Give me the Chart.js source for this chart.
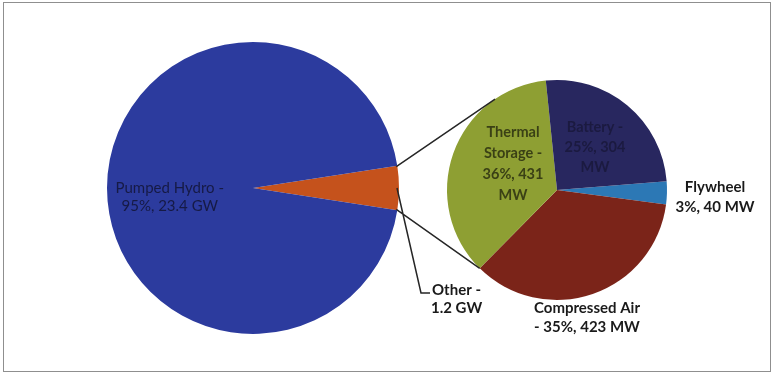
<!DOCTYPE html>
<html>
<head>
<meta charset="utf-8">
<script src="https://cdn.jsdelivr.net/npm/chart.js@4/dist/chart.umd.min.js"></script>
<style>
  html, body { margin:0; padding:0; background:#fff; }
  #wrap { position:relative; width:774px; height:376px; overflow:hidden; background:#fff; }
  #frame { position:absolute; left:3px; top:2px; width:766px; height:368px; border:1px solid #8f8f8f; }
  canvas { position:absolute; left:0; top:0; }
</style>
</head>
<body>
<div id="wrap">
  <div id="frame"></div>
  <canvas id="big" width="774" height="376"></canvas>
  <canvas id="small" width="774" height="376"></canvas>
</div>
<script>
// ---- data ----
const bigLabels = ['Other', 'Pumped Hydro'];
const bigValues = [1.2, 23.4];           // GW
const bigText = [['Other -', '1.2 GW'], ['Pumped Hydro -', '95%, 23.4 GW']];

const smallLabels = ['Flywheel', 'Compressed Air', 'Thermal Storage', 'Battery'];
const smallValues = [40, 423, 431, 304]; // MW
const smallText = [
  ['Flywheel', '3%, 40 MW'],
  ['Compressed Air', '- 35%, 423 MW'],
  ['Thermal', 'Storage -', '36%, 431', 'MW'],
  ['Battery -', '25%, 304', 'MW']
];

// ---- styles ----
const bigColors = ['#C5521C', '#2C3B9E'];
const smallColors = ['#2C78B5', '#7B2419', '#8E9F33', '#28275F'];

const FONT = 'Lato, "Open Sans", sans-serif';

function drawLines(ctx, lines, x, y, font, color, lh, align) {
  ctx.save();
  ctx.font = font;
  ctx.fillStyle = color;
  ctx.textAlign = align || 'center';
  ctx.textBaseline = 'middle';
  const y0 = y - (lines.length - 1) * lh / 2;
  lines.forEach((t, i) => ctx.fillText(t, x, y0 + i * lh));
  ctx.restore();
}

const bigTotal = bigValues.reduce((a, b) => a + b, 0);
const otherDeg = bigValues[0] / bigTotal * 360;

const bigLabelPlugin = {
  id: 'bigLabels',
  afterDraw(chart) {
    const ctx = chart.ctx;
    const arc = chart.getDatasetMeta(0).data[1];
    const mid = (arc.startAngle + arc.endAngle) / 2;
    const d = arc.outerRadius * 0.57;
    drawLines(ctx, bigText[1], arc.x + Math.cos(mid) * d, arc.y + Math.sin(mid) * d + 9,
      '15px ' + FONT, '#161A45', 18);
  }
};

const bigChart = new Chart(document.getElementById('big'), {
  type: 'pie',
  data: { labels: bigLabels, datasets: [{ data: bigValues, backgroundColor: bigColors, borderWidth: 0 }] },
  options: {
    responsive: false, animation: false, devicePixelRatio: 1,
    rotation: 90 - otherDeg / 2,
    radius: 146,
    layout: { padding: { left: 0, right: 268, top: 0, bottom: 0 } },
    plugins: { legend: { display: false }, tooltip: { enabled: false } },
    events: []
  },
  plugins: [bigLabelPlugin]
});

const connectorPlugin = {
  id: 'connectors',
  afterDraw(chart) {
    const ctx = chart.ctx;
    const other = bigChart.getDatasetMeta(0).data[0];
    const R = other.outerRadius;
    const p1 = { x: other.x + Math.cos(other.startAngle) * R, y: other.y + Math.sin(other.startAngle) * R };
    const p2 = { x: other.x + Math.cos(other.endAngle) * R, y: other.y + Math.sin(other.endAngle) * R };
    const s = chart.getDatasetMeta(0).data;
    const cx = s[0].x, cy = s[0].y, r = s[0].outerRadius;
    // upper: tangent from p1 to the small pie
    const dx = p1.x - cx, dy = p1.y - cy, dist = Math.hypot(dx, dy);
    const a = Math.atan2(dy, dx) + Math.acos(r / dist);
    const q1 = { x: cx + Math.cos(a) * r, y: cy + Math.sin(a) * r };
    // lower: to the start of the thermal slice
    const b = s[2].startAngle;
    const q2 = { x: cx + Math.cos(b) * r, y: cy + Math.sin(b) * r };
    ctx.save();
    ctx.strokeStyle = '#262626';
    ctx.lineWidth = 1.5;
    ctx.beginPath();
    ctx.moveTo(p1.x - 1, p1.y + 1); ctx.lineTo(q1.x, q1.y);
    ctx.moveTo(p2.x - 1, p2.y - 1); ctx.lineTo(q2.x, q2.y);
    // "Other" label leader
    const mid = (other.startAngle + other.endAngle) / 2;
    const m = { x: other.x + Math.cos(mid) * (R - 2), y: other.y + Math.sin(mid) * (R - 2) };
    const lx = m.x + 24, ly = m.y + 105;
    ctx.moveTo(m.x, m.y); ctx.lineTo(lx, ly); ctx.lineTo(lx + 9, ly);
    ctx.stroke();
    ctx.restore();
    drawLines(ctx, [bigText[0][0]], lx + 11, ly - 3, 'bold 15px ' + FONT, '#1a1a1a', 18, 'left');
    drawLines(ctx, [bigText[0][1]], lx + 10, ly + 15, 'bold 15px ' + FONT, '#1a1a1a', 18, 'left');

    // small pie labels
    const bold = 'bold 15px ' + FONT;
    drawLines(ctx, smallText[0], cx + 158, cy + 7, bold, '#1a1a1a', 20);
    drawLines(ctx, smallText[1], cx + 30, cy + 128, bold, '#1a1a1a', 19);
    drawLines(ctx, smallText[2], cx - 44, cy - 26, 'bold 14.5px ' + FONT, '#3A4015', 21);
    drawLines(ctx, smallText[3], cx + 38, cy - 43, 'bold 14.5px ' + FONT, '#1B1A40', 20);
  }
};

const smallChart = new Chart(document.getElementById('small'), {
  type: 'pie',
  data: { labels: smallLabels, datasets: [{ data: smallValues, backgroundColor: smallColors, borderWidth: 0 }] },
  options: {
    responsive: false, animation: false, devicePixelRatio: 1,
    rotation: 85.5,
    radius: 110,
    layout: { padding: { left: 340, right: 0, top: 4, bottom: 0 } },
    plugins: { legend: { display: false }, tooltip: { enabled: false } },
    events: []
  },
  plugins: [connectorPlugin]
});
</script>
</body>
</html>
